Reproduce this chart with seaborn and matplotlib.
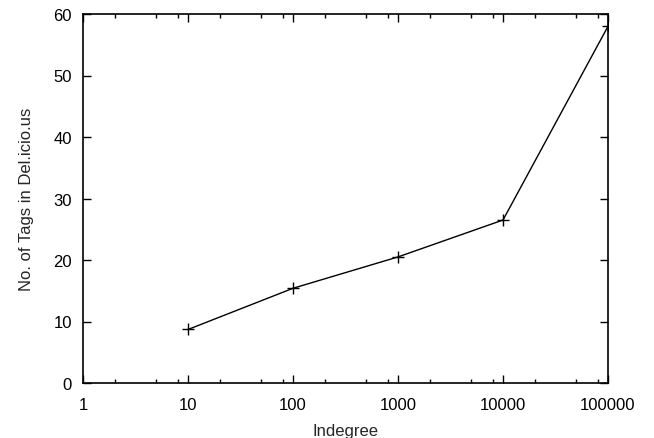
import matplotlib
matplotlib.use("Agg")
import matplotlib.pyplot as plt
import seaborn as sns
import numpy as np
import pandas as pd
from matplotlib.ticker import FixedLocator, NullFormatter

# data
indegree = [10, 100, 1000, 10000, 100000]
num_tags = [8.7, 15.4, 20.5, 26.5, 58.0]

x_ticks = [1, 10, 100, 1000, 10000, 100000]
x_tick_labels = ["1", "10", "100", "1000", "10000", "100000"]
y_ticks = [0, 10, 20, 30, 40, 50, 60]

sns.set_style("ticks")
plt.rcParams["font.family"] = ["Liberation Sans", "DejaVu Sans"]

df = pd.DataFrame({"Indegree": indegree, "Tags": num_tags})

fig = plt.figure(figsize=(6.54, 4.39), dpi=100)
ax = fig.add_axes([83 / 654, 1 - 384 / 439, (608 - 83) / 654, (384 - 15) / 439])

sns.lineplot(data=df, x="Indegree", y="Tags", ax=ax, color="black", linewidth=1,
             marker="+", markersize=8, markeredgewidth=1, markeredgecolor="black")

ax.set_xscale("log")
ax.set_xlim(1, 100000)
ax.set_ylim(0, 60)
ax.set_xticks(x_ticks)
ax.set_xticklabels(x_tick_labels)
minor = [m * 10 ** d for d in range(5) for m in (2, 5, 8)]
ax.xaxis.set_minor_locator(FixedLocator(minor))
ax.xaxis.set_minor_formatter(NullFormatter())
ax.set_yticks(y_ticks)

ax.tick_params(which="both", direction="in", top=True, right=True, labelsize=12, colors="black")
ax.tick_params(which="major", length=6, width=1, pad=8)
ax.tick_params(axis="x", which="major", pad=10)
ax.tick_params(which="minor", length=3, width=1)
for s in ax.spines.values():
    s.set_visible(True)
    s.set_linewidth(1.2)
    s.set_color("black")

ax.set_xlabel("Indegree", fontsize=12, labelpad=8)
ax.set_ylabel("No. of Tags in Del.icio.us", fontsize=12, labelpad=14)

fig.savefig("out.png", dpi=100)
